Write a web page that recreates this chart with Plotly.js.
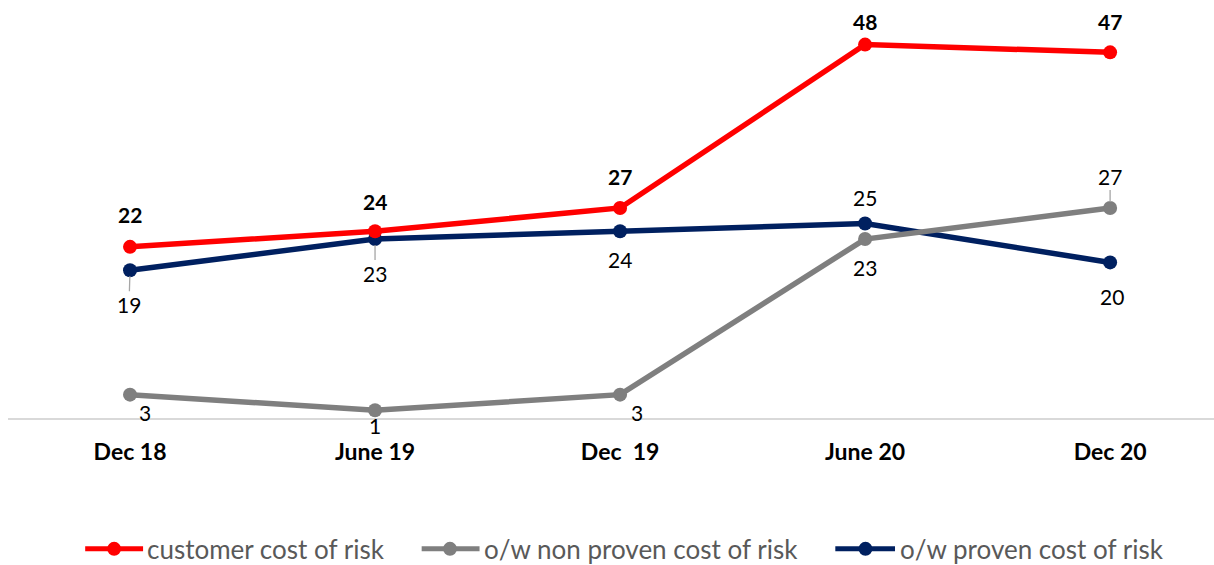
<!DOCTYPE html>
<html>
<head>
<meta charset="utf-8">
<script src="https://cdn.plot.ly/plotly-3.0.1.min.js"></script>
<style>
  html, body { margin: 0; padding: 0; background: #ffffff; }
  #chart { width: 1214px; height: 565px; }
</style>
</head>
<body>
<div id="chart"></div>
<script>
// Periods on the horizontal axis
const categories = ['Dec 18', 'June 19', 'Dec\u00a0 19', 'June 20', 'Dec 20'];

// Cost of risk series
const customerCostOfRisk = [22, 24, 27, 48, 47];
const nonProvenCostOfRisk = [3, 1, 3, 23, 27];
const provenCostOfRisk = [19, 23, 24, 25, 20];

const seriesNames = ['customer cost of risk', 'o/w non proven cost of risk', 'o/w proven cost of risk'];
const seriesColors = ['#ff0000', '#7f7f7f', '#002060'];

// Data label placement per point: [dx, dy] in pixels (dy downward), leader = thin connector line
const labelPlacement = [
  { bold: true,  offsets: [[0, -32], [0, -30], [0, -31], [0, -23], [0, -31]], leader: [false, false, false, false, false] },
  { bold: false, offsets: [[15, 18], [0, 15], [17, 18], [0, 28], [0, -31]],   leader: [false, false, false, false, true] },
  { bold: false, offsets: [[-1, 34], [0, 34], [0, 28], [0, -26], [2, 34]],    leader: [true, true, false, false, false] }
];

const allSeries = [customerCostOfRisk, nonProvenCostOfRisk, provenCostOfRisk];
const FONT = 'Lato, "Open Sans", sans-serif';

// Draw order: navy, gray, then red on top
const drawOrder = [2, 1, 0];
const traces = drawOrder.map(function (s) {
  return {
    type: 'scatter',
    mode: 'lines+markers',
    x: categories,
    y: allSeries[s],
    name: seriesNames[s],
    line: { color: seriesColors[s], width: 5.5 },
    marker: { color: seriesColors[s], size: 14 },
    hoverinfo: 'none',
    showlegend: false
  };
});

const annotations = [];
allSeries.forEach(function (vals, s) {
  const p = labelPlacement[s];
  vals.forEach(function (v, i) {
    const off = p.offsets[i];
    const txt = p.bold ? '<b>' + v + '</b>' : String(v);
    const base = {
      x: categories[i], y: v, xref: 'x', yref: 'y',
      text: txt,
      font: { family: FONT, size: 21, color: '#000000' }
    };
    if (p.leader[i]) {
      annotations.push(Object.assign(base, {
        showarrow: true, ax: off[0], ay: off[1], axref: 'pixel', ayref: 'pixel',
        arrowhead: 0, arrowwidth: 1.3, arrowcolor: '#a6a6a6', standoff: 6, borderpad: 0
      }));
    } else {
      annotations.push(Object.assign(base, {
        showarrow: false, xshift: off[0], yshift: -off[1]
      }));
    }
  });
});

// Legend drawn below the plot: swatch line with a dot, followed by the series name
const legendRow = { y: -0.313, items: [
  { lineFrom: 0.064, lineTo: 0.112, dot: 0.088, text: 0.1136 },
  { lineFrom: 0.343, lineTo: 0.391, dot: 0.3665, text: 0.393 },
  { lineFrom: 0.686, lineTo: 0.7355, dot: 0.711, text: 0.738 }
]};
const shapes = [];
legendRow.items.forEach(function (it, s) {
  shapes.push({
    type: 'line', xref: 'paper', yref: 'paper',
    x0: it.lineFrom, x1: it.lineTo, y0: legendRow.y, y1: legendRow.y,
    line: { color: seriesColors[s], width: 5 }
  });
  shapes.push({
    type: 'circle', xref: 'paper', yref: 'paper',
    xsizemode: 'pixel', ysizemode: 'pixel',
    xanchor: it.dot, yanchor: legendRow.y,
    x0: -7, x1: 7, y0: -7, y1: 7,
    fillcolor: seriesColors[s], line: { width: 0 }
  });
  annotations.push({
    xref: 'paper', yref: 'paper', x: it.text, y: legendRow.y,
    xanchor: 'left', yanchor: 'middle', showarrow: false,
    text: seriesNames[s],
    font: { family: FONT, size: 26, color: '#595959' }
  });
});

const layout = {
  width: 1214, height: 565,
  margin: { l: 8, r: 0, t: 0, b: 147 },
  paper_bgcolor: '#ffffff', plot_bgcolor: '#ffffff',
  showlegend: false,
  xaxis: {
    type: 'category',
    range: [-0.498, 4.424],
    showgrid: false, zeroline: false,
    showline: true, linecolor: '#d9d9d9', linewidth: 1.5,
    ticks: '', ticklabelstandoff: 13,
    tickfont: { family: FONT, size: 23, color: '#000000', weight: 'bold' },
    fixedrange: true
  },
  yaxis: {
    range: [0, 53.73],
    visible: false, showgrid: false, zeroline: false,
    fixedrange: true
  },
  annotations: annotations,
  shapes: shapes,
  font: { family: FONT }
};

Plotly.newPlot('chart', traces, layout, { displayModeBar: false, staticPlot: true });
</script>
</body>
</html>
